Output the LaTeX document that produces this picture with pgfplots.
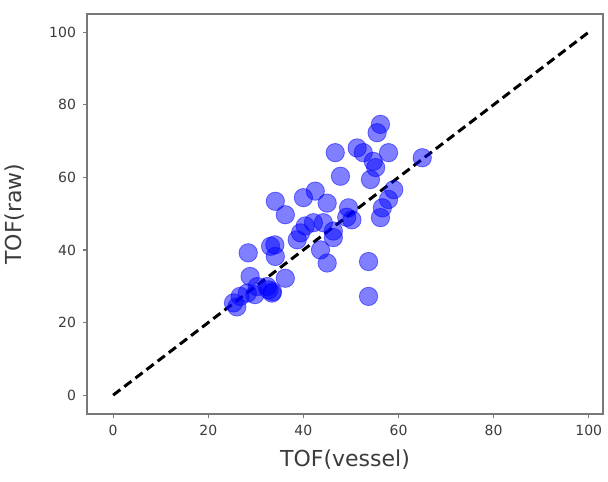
\documentclass[border=0pt]{standalone}
\usepackage{pgfplots}
\pgfplotsset{compat=1.18}
\usepackage{fontspec}
\setmainfont{DejaVu Sans}
\definecolor{axisgray}{RGB}{120,120,120}
\definecolor{txtgray}{RGB}{60,60,60}
\begin{document}
\begin{tikzpicture}
\begin{axis}[
  at={(0,0)}, anchor=south west,
  scale only axis,
  width=258pt, height=200pt,
  xmin=-5.5, xmax=103,
  ymin=-5.2, ymax=105,
  xtick={0,20,40,60,80,100},
  ytick={0,20,40,60,80,100},
  tick align=outside,
  major tick length=2pt,
  xtick pos=bottom, ytick pos=left,
  axis line style={axisgray, line width=1pt},
  tick style={axisgray, line width=0.6pt},
  ticklabel style={font=\fontsize{7}{8}\selectfont, text=txtgray},
  /pgf/number format/assume math mode=true,
  xlabel={TOF(vessel)}, ylabel={TOF(raw)},
  label style={font=\fontsize{11}{13}\selectfont, text=txtgray},
  xlabel style={at={(rel axis cs:0.5,0)}, anchor=center, yshift=-23pt},
  ylabel style={at={(rel axis cs:0,0.5)}, anchor=center, yshift=36pt},
  clip=false,
]
\addplot[black, line width=1.5pt, dash pattern=on 4.5pt off 2.5pt] coordinates {(0,0) (100,100)};
\addplot[only marks, mark=*, mark size=4.6pt,
  mark options={draw=blue, fill=blue, draw opacity=0.5, fill opacity=0.5}]
  coordinates {
  (56.2,74.6) (55.5,72.3) (46.7,66.8) (51.3,68.1) (52.6,66.8) (57.9,66.8)
  (54.7,64.4) (55.2,62.7) (65.0,65.4) (47.8,60.3) (54.1,59.4) (59.0,56.6)
  (57.9,53.9) (56.6,51.6) (56.2,48.9) (34.1,53.4) (36.2,49.7) (40.0,54.4)
  (42.5,56.2) (45.0,52.9) (49.5,51.6) (50.2,48.3) (49.1,49.0) (46.3,43.4)
  (44.2,47.5) (42.1,47.5) (39.4,44.7) (38.7,42.8) (43.6,40.0) (45.0,36.4)
  (53.7,36.8) (53.7,27.2) (33.1,41.0) (28.4,39.2) (34.1,38.2) (36.2,32.2)
  (28.8,32.7) (32.7,29.0) (32.4,29.9) (30.3,29.9) (26.7,27.2) (25.3,25.4)
  (28.2,28.1) (29.8,27.7) (33.4,28.1) (46.3,45.2) (40.4,46.6) (34.0,41.4)
  (26.0,24.3) (33.5,28.5)
  };
\end{axis}
\pgfresetboundingbox
\path (-43.5pt,-33.5pt) rectangle (260.5pt,207pt);
\end{tikzpicture}
\end{document}
